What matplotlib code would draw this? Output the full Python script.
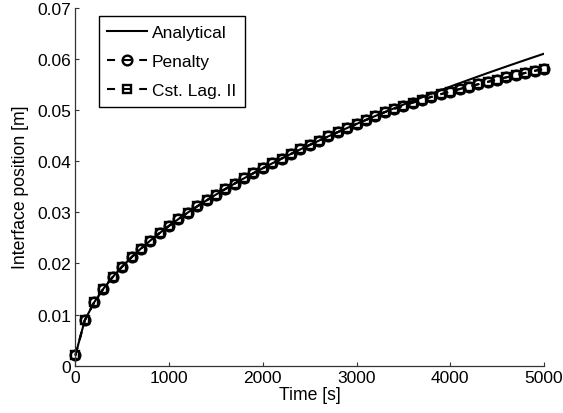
import numpy as np
import matplotlib
matplotlib.use('Agg')
import matplotlib.pyplot as plt

plt.rcParams['font.family'] = ['Liberation Sans', 'DejaVu Sans']
plt.rcParams['lines.scale_dashes'] = False

# time grid [s], one sample every 100 s
time = np.arange(0, 5001, 100)

# interface position [m]
analytical = [0.00200, 0.00885, 0.01236, 0.01507, 0.01736, 0.01938, 0.02121,
              0.02290, 0.02447, 0.02594, 0.02734, 0.02867, 0.02994, 0.03115,
              0.03232, 0.03345, 0.03455, 0.03561, 0.03664, 0.03764, 0.03861,
              0.03956, 0.04049, 0.04140, 0.04229, 0.04316, 0.04401, 0.04485,
              0.04567, 0.04647, 0.04727, 0.04805, 0.04882, 0.04957, 0.05032,
              0.05105, 0.05177, 0.05248, 0.05319, 0.05388, 0.05457, 0.05524,
              0.05591, 0.05657, 0.05723, 0.05787, 0.05851, 0.05914, 0.05977,
              0.06039, 0.06100]

penalty = [0.00200, 0.00885, 0.01236, 0.01507, 0.01736, 0.01938, 0.02121,
           0.02290, 0.02447, 0.02594, 0.02734, 0.02867, 0.02994, 0.03115,
           0.03232, 0.03345, 0.03455, 0.03561, 0.03664, 0.03764, 0.03861,
           0.03956, 0.04049, 0.04140, 0.04229, 0.04316, 0.04401, 0.04485,
           0.04567, 0.04647, 0.04727, 0.04805, 0.04882, 0.04957, 0.05022,
           0.05084, 0.05144, 0.05201, 0.05256, 0.05309, 0.05360, 0.05409,
           0.05457, 0.05504, 0.05550, 0.05595, 0.05639, 0.05682, 0.05724,
           0.05765, 0.05805]

cst_lag = [0.00200, 0.00885, 0.01236, 0.01507, 0.01736, 0.01938, 0.02121,
           0.02290, 0.02447, 0.02594, 0.02734, 0.02867, 0.02994, 0.03115,
           0.03232, 0.03345, 0.03455, 0.03561, 0.03664, 0.03764, 0.03861,
           0.03956, 0.04049, 0.04140, 0.04229, 0.04316, 0.04401, 0.04485,
           0.04567, 0.04647, 0.04727, 0.04805, 0.04882, 0.04957, 0.05022,
           0.05084, 0.05144, 0.05201, 0.05256, 0.05309, 0.05360, 0.05409,
           0.05457, 0.05504, 0.05550, 0.05595, 0.05639, 0.05682, 0.05724,
           0.05765, 0.05805]

fig = plt.figure(figsize=(5.63, 4.14), dpi=100)
ax = fig.add_axes([0.1338, 0.1143, 0.8324, 0.8647])

ax.plot(time, analytical, color='k', lw=1.5, label='Analytical')
ax.plot(time, penalty, color='k', lw=1.5, dashes=(5.8, 5.8), clip_on=False,
        marker='o', ms=7, mew=1.7, mfc='none', mec='k', label='Penalty')
ax.plot(time, cst_lag, color='k', lw=1.5, dashes=(5.8, 5.8), clip_on=False,
        marker='s', ms=6, mew=1.7, mfc='none', mec='k', label='Cst. Lag. II')

ax.set_xlim(0, 5000)
ax.set_ylim(0, 0.07)
ax.set_xticks([0, 1000, 2000, 3000, 4000, 5000])
ax.set_yticks([0, 0.01, 0.02, 0.03, 0.04, 0.05, 0.06, 0.07])
ax.set_yticklabels(['0', '0.01', '0.02', '0.03', '0.04', '0.05', '0.06', '0.07'])

for s in ['top', 'right']:
    ax.spines[s].set_visible(False)
for s in ['left', 'bottom']:
    ax.spines[s].set_color('#333333')
    ax.spines[s].set_linewidth(0.9)
ax.tick_params(direction='in', length=3, width=0.8, color='#333333',
               labelsize=12.5, pad=3)

ax.set_xlabel('Time [s]', fontsize=12.7, labelpad=1)
ax.set_ylabel('Interface position [m]', fontsize=12.7, labelpad=6)

leg = ax.legend(loc='upper left', bbox_to_anchor=(0.05, 0.977), fontsize=12.5,
                frameon=True, fancybox=False, framealpha=1, edgecolor='k',
                handlelength=2.3, handletextpad=0.25, labelspacing=0.8,
                borderpad=0.5, borderaxespad=0, numpoints=1)
leg.get_frame().set_linewidth(1.0)
leg.set_zorder(5)

plt.savefig('out.png', dpi=100, facecolor='w')
plt.close(fig)
